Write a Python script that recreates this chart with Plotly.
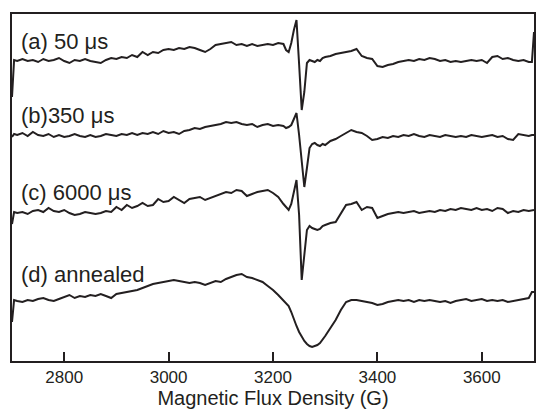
import plotly.graph_objects as go

# magnetic field (G), shared by all four spectra
field = [2700, 2704, 2710, 2720, 2730, 2740, 2750, 2760, 2770, 2780, 2790,
         2800, 2810, 2820, 2830, 2840, 2850, 2860, 2870, 2880, 2890,
         2900, 2910, 2920, 2930, 2940, 2950, 2960, 2970, 2980, 2990,
         3000, 3010, 3020, 3030, 3040, 3050, 3060, 3070, 3080, 3090,
         3100, 3110, 3120, 3130, 3140, 3150, 3160, 3170, 3180, 3190,
         3200, 3210, 3220, 3225, 3230, 3235, 3240, 3245, 3250, 3255,
         3260, 3265, 3270, 3275, 3280, 3285, 3290, 3295, 3300, 3310,
         3320, 3330, 3340, 3350, 3360, 3370, 3380, 3390, 3400, 3410,
         3420, 3430, 3440, 3450, 3460, 3470, 3480, 3490, 3500, 3510,
         3520, 3530, 3540, 3550, 3560, 3570, 3580, 3590, 3600, 3610,
         3620, 3630, 3640, 3650, 3660, 3670, 3680, 3690, 3696, 3700]

# stacked EPR signals (arb. units, offset already included)
spec_a = [265, 302, 301, 303, 301, 302, 300, 303, 301, 302, 304,
          301, 299, 302, 301, 303, 301, 300, 299, 302, 304,
          303, 305, 304, 307, 305, 310, 307, 310, 309, 312,
          313, 312, 314, 313, 315, 314, 312, 310, 313, 317,
          318, 319, 320, 317, 318, 316, 318, 316, 317, 318,
          317, 319, 318, 312, 310, 319, 332, 342, 298, 252,
          270, 299, 302, 301, 300, 302, 301, 304, 305, 306,
          308, 309, 310, 311, 313, 306, 304, 303, 296, 295,
          297, 298, 300, 301, 302, 301, 303, 302, 304, 303,
          301, 302, 300, 301, 300, 301, 302, 301, 302, 299,
          305, 306, 303, 304, 302, 301, 302, 300, 300, 330]

spec_b = [225, 228, 227, 229, 226, 230, 227, 226, 228, 225, 227,
          225, 226, 228, 226, 225, 227, 225, 226, 228, 227,
          226, 228, 227, 229, 227, 229, 228, 230, 228, 231,
          229, 230, 228, 231, 232, 234, 233, 235, 236, 237,
          238, 240, 239, 240, 238, 237, 238, 235, 237, 238,
          236, 237, 236, 234, 235, 237, 244, 249, 227, 197,
          175, 194, 214, 218, 219, 217, 216, 218, 217, 221,
          223, 226, 229, 232, 230, 229, 226, 222, 223, 225,
          224, 226, 225, 227, 226, 228, 226, 225, 227, 226,
          225, 227, 226, 225, 226, 225, 227, 226, 225, 226,
          227, 225, 226, 223, 222, 228, 227, 226, 227, 227]

spec_c = [138, 150, 149, 150, 148, 151, 152, 150, 154, 151, 150,
          152, 149, 147, 148, 150, 149, 148, 149, 151, 150,
          155, 152, 157, 154, 156, 159, 156, 157, 163, 160,
          161, 165, 162, 159, 163, 164, 165, 162, 164, 166,
          168, 170, 169, 172, 171, 166, 168, 170, 171, 172,
          169, 165, 158, 155, 152, 158, 172, 182, 147, 82,
          107, 132, 136, 134, 133, 132, 133, 136, 137, 139,
          140, 148, 157, 158, 160, 152, 155, 154, 144, 146,
          148, 149, 150, 149, 150, 151, 149, 150, 151, 150,
          152, 151, 153, 152, 154, 153, 152, 154, 152, 153,
          151, 154, 153, 149, 151, 150, 152, 151, 152, 152]

spec_d = [40, 62, 61, 60, 62, 61, 63, 64, 62, 61, 63,
          65, 67, 64, 66, 65, 67, 66, 68, 66, 64,
          68, 69, 70, 71, 72, 74, 76, 78, 79, 80,
          81, 82, 81, 80, 79, 80, 79, 77, 79, 81,
          80, 83, 85, 87, 88, 85, 84, 82, 80, 76,
          72, 67, 62, 59, 56, 50, 42, 36, 30, 25,
          21, 18, 16, 15, 16, 17, 19, 22, 26, 34,
          42, 52, 60, 62, 62, 61, 60, 59, 57, 58,
          60, 61, 62, 61, 62, 60, 62, 61, 62, 61,
          60, 61, 59, 61, 62, 63, 61, 62, 63, 61,
          62, 61, 62, 60, 61, 62, 63, 64, 70, 70]

labels = ["(a) 50 \u03bcs", "(b)350 \u03bcs", "(c) 6000 \u03bcs", "(d) annealed"]
label_y = [0.922, 0.708, 0.486, 0.249]
tick_vals = [2800, 3000, 3200, 3400, 3600]

ink = "#231f20"

fig = go.Figure()
for spec in [spec_a, spec_b, spec_c, spec_d]:
    fig.add_trace(go.Scatter(x=field, y=spec, mode="lines",
                             line=dict(color=ink, width=2), showlegend=False))

for txt, ly in zip(labels, label_y):
    fig.add_annotation(text=txt, xref="paper", yref="paper", x=0.014, y=ly,
                       xanchor="left", yanchor="middle", showarrow=False,
                       font=dict(size=22, color=ink))

fig.update_xaxes(range=[2700, 3700], tickvals=tick_vals, ticks="inside",
                 ticklen=9, tickwidth=2, tickcolor=ink,
                 showline=True, linewidth=2, linecolor=ink, mirror=True,
                 showgrid=False, zeroline=False,
                 tickfont=dict(size=17, color=ink),
                 title=dict(text="Magnetic Flux Density (G)",
                            font=dict(size=20, color=ink), standoff=5))
fig.update_yaxes(range=[1, 348], showticklabels=False, ticks="",
                 showline=True, linewidth=2, linecolor=ink, mirror=True,
                 showgrid=False, zeroline=False)

fig.update_layout(width=536, height=418,
                  margin=dict(l=12, r=0, t=14, b=57),
                  paper_bgcolor="white", plot_bgcolor="white",
                  font=dict(family="Liberation Sans, Arial, sans-serif", color=ink))

# drop the default page margin so the figure sits at the window corner
fig.write_html("out.html", config={"displayModeBar": False},
               post_script="document.body.style.margin='0px';"
                           "document.body.style.overflow='hidden';")
